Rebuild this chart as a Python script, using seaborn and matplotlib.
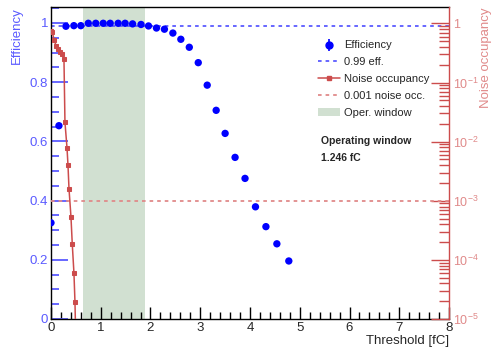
import numpy as np
import pandas as pd
import matplotlib
matplotlib.use("Agg")
import matplotlib.pyplot as plt
import seaborn as sns
from matplotlib.lines import Line2D
from matplotlib.patches import Patch
from matplotlib.legend_handler import HandlerTuple
from matplotlib.ticker import MultipleLocator, LogLocator, FuncFormatter, NullFormatter

# efficiency scan
eff_thr = [0.0, 0.16, 0.30, 0.46, 0.60, 0.75, 0.90, 1.05, 1.19, 1.35, 1.49, 1.64, 1.81,
           1.96, 2.12, 2.28, 2.45, 2.61, 2.78, 2.96, 3.14, 3.32, 3.50, 3.70, 3.90,
           4.11, 4.32, 4.54, 4.78]
eff_val = [0.325, 0.653, 0.989, 0.991, 0.991, 0.999, 0.999, 0.999, 0.999, 0.999, 0.999,
           0.997, 0.995, 0.990, 0.983, 0.979, 0.966, 0.945, 0.918, 0.866, 0.790, 0.705,
           0.627, 0.546, 0.475, 0.379, 0.312, 0.254, 0.196]

# noise occupancy scan
noise_thr = [0.0, 0.026, 0.066, 0.107, 0.147, 0.187, 0.227, 0.261, 0.281, 0.322, 0.342,
             0.362, 0.402, 0.428, 0.462, 0.482, 0.50]
noise_val = [0.75, 0.71, 0.52, 0.41, 0.37, 0.33, 0.30, 0.25, 0.0213, 0.0079, 0.0040,
             0.00161, 5.3e-4, 1.85e-4, 5.9e-5, 1.96e-5, 4e-6]

eff_ref = 0.99
noise_ref = 1e-3
window = (0.637, 1.883)
window_text = "1.246 fC"

blue = "#0000ff"
blue_lt = "#5a5aff"
red = "#cc4c4c"
red_lt = "#e08a8a"
green = "#d1e0d1"

sns.set_style("ticks")
plt.rcParams['font.family'] = ['Liberation Sans', 'DejaVu Sans']
plt.rcParams['xtick.direction'] = 'in'
plt.rcParams['ytick.direction'] = 'in'

fig = plt.figure(figsize=(4.93, 3.47), dpi=100)
ax = fig.add_axes([0.1034, 0.0807, 0.8074, 0.8991])
ax2 = ax.twinx()

eff_df = pd.DataFrame({"thr": eff_thr, "eff": eff_val})
noise_df = pd.DataFrame({"thr": noise_thr, "noise": noise_val})

ax.axvspan(window[0], window[1], color=green, lw=0, zorder=0)
ax.axhline(eff_ref, color=blue_lt, ls=(0, (2, 2.2)), lw=1.3, zorder=1)
sns.scatterplot(data=eff_df, x="thr", y="eff", ax=ax, color=blue, s=28,
                edgecolor="none", zorder=3)

ax2.axhline(noise_ref, color=red_lt, ls=(0, (2, 2.2)), lw=1.3)
sns.lineplot(data=noise_df, x="thr", y="noise", ax=ax2, color=red, lw=1.1,
             marker="s", markersize=3, markeredgecolor=red)

ax.set_xlim(0, 8)
ax.set_ylim(0, 1.054)
ax2.set_yscale("log")
ax2.set_ylim(1e-5, 1.9)

# axes styling
for s in ["left", "top", "bottom"]:
    ax.spines[s].set_color("black")
    ax.spines[s].set_linewidth(1.0)
ax.spines["right"].set_visible(False)
for s in ["left", "top", "bottom"]:
    ax2.spines[s].set_visible(False)
ax2.spines["right"].set_color(red)
ax2.spines["right"].set_linewidth(1.0)

ax.xaxis.set_major_locator(MultipleLocator(1))
ax.xaxis.set_minor_locator(MultipleLocator(0.2))
ax.yaxis.set_major_locator(MultipleLocator(0.2))
ax.yaxis.set_minor_locator(MultipleLocator(0.05))
ax.yaxis.set_major_formatter(FuncFormatter(lambda v, p: "%g" % round(v, 2)))

ax.tick_params(axis="x", which="major", direction="in", length=9, width=1, color="black",
               labelsize=9.5, pad=2, top=False)
ax.tick_params(axis="x", which="minor", direction="in", length=5, width=1, color="black", top=False)
ax.tick_params(axis="y", which="major", direction="in", length=12, width=1.3, color=blue_lt,
               labelcolor=blue_lt, labelsize=9.5, pad=2, right=False)
ax.tick_params(axis="y", which="minor", direction="in", length=6, width=1.3, color=blue_lt,
               right=False)

ax2.yaxis.set_major_locator(LogLocator(base=10, numticks=10))
ax2.yaxis.set_minor_locator(LogLocator(base=10, subs=np.arange(2, 10), numticks=20))
ax2.yaxis.set_minor_formatter(NullFormatter())
ax2.yaxis.set_major_formatter(FuncFormatter(
    lambda v, p: "1" if abs(v - 1) < 1e-9 else r"$\mathregular{10^{%d}}$" % round(np.log10(v))))
ax2.tick_params(axis="y", which="major", direction="in", length=13, width=1, color=red,
                labelcolor=red_lt, labelsize=9, pad=3, left=False)
ax2.tick_params(axis="y", which="minor", direction="in", length=7, width=1, color=red,
                left=False)

ax.set_xlabel("Threshold [fC]", loc="right", fontsize=9.5, labelpad=1)
ax.set_ylabel("Efficiency", loc="top", color=blue_lt, fontsize=9.5, labelpad=5)
ax2.set_ylabel("Noise occupancy", loc="top", color=red_lt, fontsize=9.5, labelpad=1)

# legend
h_eff = (Line2D([], [], color=blue, marker="|", ls="none", markersize=9, markeredgewidth=1.2),
         Line2D([], [], color=blue, marker="o", ls="none", markersize=5))
h_effref = Line2D([], [], color=blue_lt, ls=(0, (2, 2.2)), lw=1.3)
h_noise = Line2D([], [], color=red, lw=1.1, marker="s", markersize=3)
h_noiseref = Line2D([], [], color=red_lt, ls=(0, (2, 2.2)), lw=1.3)
h_win = Patch(facecolor=green, edgecolor="none")
leg = ax.legend([h_eff, h_effref, h_noise, h_noiseref, h_win],
                ["Efficiency", "0.99 eff.", "Noise occupancy", "0.001 noise occ.", "Oper. window"],
                handler_map={tuple: HandlerTuple(ndivide=1)},
                loc="upper left", bbox_to_anchor=(314 / 493, 1 - 36 / 347),
                bbox_transform=fig.transFigure, frameon=False, fontsize=8,
                handlelength=1.9, handletextpad=0.4, labelspacing=0.62, borderaxespad=0)
leg.set_zorder(10)

fig.text(321 / 493, 1 - 141 / 347, "Operating window", fontsize=7.5, fontweight="bold",
         va="center", ha="left")
fig.text(321 / 493, 1 - 158 / 347, window_text, fontsize=7.5, fontweight="bold",
         va="center", ha="left")

fig.savefig("out.png", dpi=100)
